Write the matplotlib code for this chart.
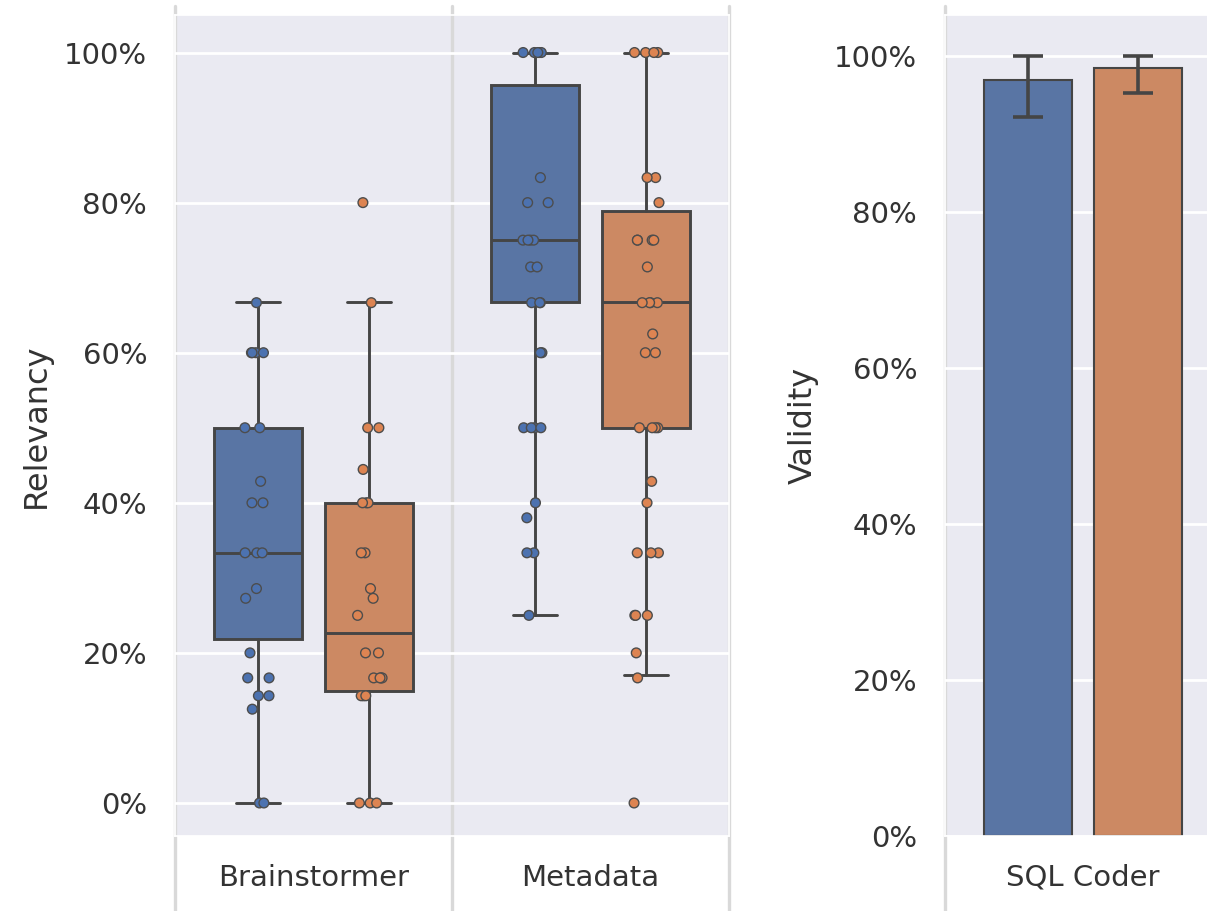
import matplotlib
matplotlib.use("Agg")
import matplotlib.pyplot as plt
import numpy as np
import pandas as pd
import seaborn as sns
from matplotlib.ticker import PercentFormatter

sns.set_theme(style="darkgrid")
plt.rcParams["font.family"] = ["DejaVu Sans"]

categories = ["Brainstormer", "Metadata"]
groups = ["A", "B"]

# per-question scores (stripplot points)
brainstormer_a = [0, 0, 0.125, 1/7, 1/7, 1/6, 1/6, 0.2, 3/11, 2/7,
                  1/3, 1/3, 1/3, 0.4, 0.4, 3/7, 0.5, 0.5,
                  0.6, 0.6, 0.6, 0.6, 2/3]
brainstormer_b = [0, 0, 0, 1/7, 1/7, 1/7, 1/6, 1/6, 1/6, 1/6, 0.2, 0.2,
                  0.25, 3/11, 2/7, 1/3, 1/3, 0.4, 0.4, 0.4, 4/9,
                  0.5, 0.5, 2/3, 0.8]
metadata_a = [0.25, 1/3, 1/3, 0.38, 0.4, 0.5, 0.5, 0.5, 0.5, 0.6, 0.6,
              2/3, 2/3, 2/3, 5/7, 5/7, 0.75, 0.75, 0.75, 0.75, 0.8, 0.8,
              5/6, 1, 1, 1, 1, 1]
metadata_b = [0, 1/6, 0.2, 0.25, 0.25, 0.25, 1/3, 1/3, 1/3, 0.4, 3/7,
              0.5, 0.5, 0.5, 0.5, 0.6, 0.6, 0.625, 2/3, 2/3, 2/3, 2/3,
              5/7, 0.75, 0.75, 0.75, 0.75, 0.8, 5/6, 5/6, 1, 1, 1, 1]

# box statistics, [category][group]
whis_lo = [[0.0, 0.0], [0.25, 0.171]]
q1 = [[0.218, 0.149], [0.667, 0.5]]
med = [[0.333, 0.226], [0.75, 0.667]]
q3 = [[0.5, 0.4], [0.957, 0.789]]
whis_hi = [[0.667, 0.667], [1.0, 1.0]]

# SQL coder validity (mean and interval)
sql_label = ["SQL Coder"]
sql_mean = [0.969, 0.985]
sql_ci_lo = [0.922, 0.953]
sql_ci_hi = [1.0, 1.0]

palette = sns.color_palette("deep", 2)
box_colors = [sns.desaturate(c, 0.75) for c in palette]
line_col = "0.27"
text_col = "0.2"
lw = 2.1

rows = []
for cat, vals in zip(categories, [brainstormer_a, metadata_a]):
    rows += [(cat, "A", v) for v in vals]
for cat, vals in zip(categories, [brainstormer_b, metadata_b]):
    rows += [(cat, "B", v) for v in vals]
df = pd.DataFrame(rows, columns=["task", "group", "score"])

fig = plt.figure(figsize=(12.07, 9.11), dpi=100)
W, H = 1207, 911
ax1 = fig.add_axes([175 / W, (H - 836) / H, 554 / W, 821 / H])
ax2 = fig.add_axes([945 / W, (H - 836) / H, 276 / W, 821 / H])

# boxes
stats, pos, fcs = [], [], []
for i in range(len(categories)):
    for j in range(len(groups)):
        stats.append(dict(whislo=whis_lo[i][j], q1=q1[i][j], med=med[i][j],
                          q3=q3[i][j], whishi=whis_hi[i][j], fliers=[]))
        pos.append(i + (j - 0.5) * 0.4)
        fcs.append(box_colors[j])
bp = ax1.bxp(stats, positions=pos, widths=0.32, patch_artist=True,
             showfliers=False, manage_ticks=False,
             boxprops=dict(edgecolor=line_col, linewidth=lw),
             medianprops=dict(color=line_col, linewidth=lw),
             whiskerprops=dict(color=line_col, linewidth=lw),
             capprops=dict(color=line_col, linewidth=lw))
for patch, fc in zip(bp["boxes"], fcs):
    patch.set_facecolor(fc)

np.random.seed(3)
sns.stripplot(data=df, x="task", y="score", hue="group", order=categories,
              hue_order=groups, dodge=True, jitter=True, palette=palette,
              size=7, linewidth=1, edgecolor="0.3", legend=False,
              zorder=3, ax=ax1)

ax1.set_xlim(-0.5, 1.5)
ax1.set_ylim(-0.044, 1.05)
ax1.set_xlabel("")
ax1.set_ylabel("Relevancy", fontsize=23, labelpad=9, color=text_col)
ax1.xaxis.grid(False)

# bars
xb = [(j - 0.5) * 0.4 for j in range(len(groups))]
err = [np.subtract(sql_mean, sql_ci_lo), np.subtract(sql_ci_hi, sql_mean)]
ax2.bar(xb, sql_mean, width=0.32, color=box_colors, edgecolor=line_col,
        linewidth=1.5)
ax2.errorbar(xb, sql_mean, yerr=err, fmt="none", ecolor=line_col,
             elinewidth=2.6, capsize=11, capthick=2.6)
ax2.set_xticks([0])
ax2.set_xticklabels(sql_label)
ax2.set_xlim(-0.5, 0.5)
ax2.set_ylim(0, 1.0526)
ax2.set_ylabel("Validity", fontsize=23, labelpad=11, color=text_col)
ax2.xaxis.grid(False)

for ax in (ax1, ax2):
    ax.set_yticks(np.arange(0, 1.01, 0.2))
    ax.yaxis.set_major_formatter(PercentFormatter(1.0, decimals=0))
    ax.tick_params(axis="both", labelsize=21, length=0, pad=20,
                   labelcolor=text_col)
    ax.grid(axis="y", color="white", linewidth=2)
    for x in np.arange(ax.get_xlim()[0], ax.get_xlim()[1] + 0.01, 1.0):
        ax.axvline(x, ymin=-0.2, ymax=1.011, color="#d9d9d9",
                   linewidth=2.4, clip_on=False, zorder=0.5)

fig.savefig("out.png", dpi=100)
